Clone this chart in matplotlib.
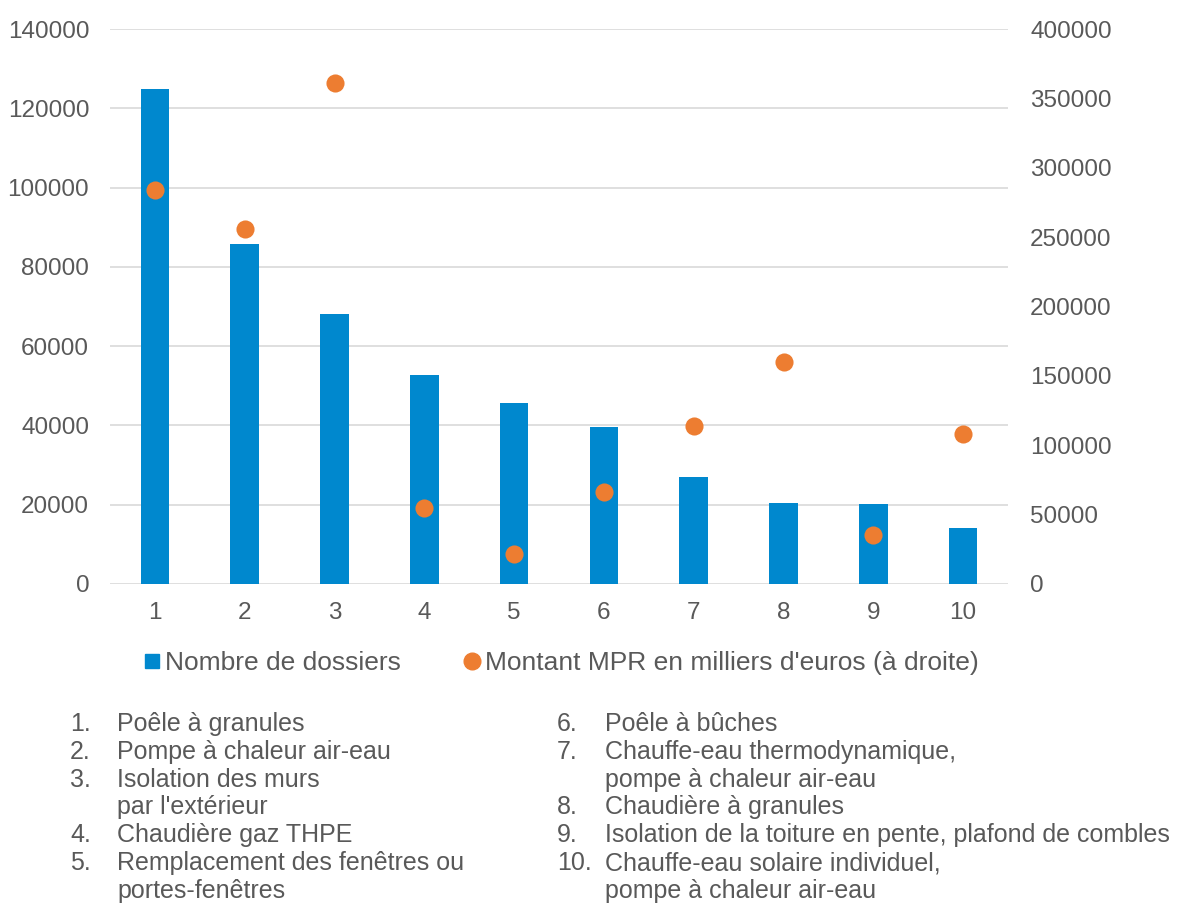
import matplotlib
matplotlib.use("Agg")
import matplotlib.pyplot as plt
from matplotlib.lines import Line2D

# data
categories = [1, 2, 3, 4, 5, 6, 7, 8, 9, 10]
nb_dossiers = [124900, 85800, 68100, 52700, 45700, 39600, 27000, 20400, 20100, 14100]
montant_mpr = [284000, 256000, 361000, 55000, 21600, 66300, 114000, 160000, 35300, 108000]
left_ticks = [0, 20000, 40000, 60000, 80000, 100000, 120000, 140000]
right_ticks = [0, 50000, 100000, 150000, 200000, 250000, 300000, 350000, 400000]

col1 = [("1.", "Poêle à granules"),
        ("2.", "Pompe à chaleur air-eau"),
        ("3.", "Isolation des murs"),
        ("", "par l'extérieur"),
        ("4.", "Chaudière gaz THPE"),
        ("5.", "Remplacement des fenêtres ou"),
        ("", "portes-fenêtres")]
col2 = [("6.", "Poêle à bûches"),
        ("7.", "Chauffe-eau thermodynamique,"),
        ("", "pompe à chaleur air-eau"),
        ("8.", "Chaudière à granules"),
        ("9.", "Isolation de la toiture en pente, plafond de combles"),
        ("10.", "Chauffe-eau solaire individuel,"),
        ("", "pompe à chaleur air-eau")]

blue = "#0088CE"
orange = "#ED7D31"
grey = "#595959"

plt.rcParams["font.family"] = ["Liberation Sans", "DejaVu Sans"]

W, H = 1179, 906
fig = plt.figure(figsize=(W / 100, H / 100), dpi=100)
ax = fig.add_axes([110 / W, (H - 584) / H, 898 / W, 555 / H])

ax.bar(categories, nb_dossiers, width=0.32, color=blue, zorder=2)
ax.set_xlim(0.5, 10.5)
ax.set_ylim(0, 140000)
ax.set_yticks(left_ticks)
ax.set_xticks(categories)
ax.grid(axis="y", color="#D9D9D9", linewidth=1.2, zorder=0)
ax.set_axisbelow(True)
for s in ax.spines.values():
    s.set_visible(False)
ax.tick_params(length=0, labelsize=17.5, labelcolor=grey)
ax.tick_params(axis="x", pad=13)
ax.tick_params(axis="y", pad=15)

ax2 = ax.twinx()
ax2.scatter(categories, montant_mpr, s=170, color=orange, zorder=3, linewidths=0)
ax2.set_ylim(0, 400000)
ax2.set_yticks(right_ticks)
for s in ax2.spines.values():
    s.set_visible(False)
ax2.tick_params(length=0, labelsize=17.5, labelcolor=grey, pad=16)

handles = [Line2D([], [], marker="s", linestyle="", color=blue, markersize=9.5),
           Line2D([], [], marker="o", linestyle="", color=orange, markersize=12)]
fig.legend(handles, ["Nombre de dossiers", "Montant MPR en milliers d'euros (à droite)"],
           loc="center", bbox_to_anchor=(559 / W, 1 - 663 / H), ncol=2, frameon=False,
           handletextpad=0.0, columnspacing=2.2, handlelength=1.0,
           prop={"size": 19}, labelcolor=grey)

# numbered list under the chart
row_y = [724, 752, 780, 807, 835, 863, 891]
for (num, txt), y in zip(col1, row_y):
    fig.text(70 / W, 1 - y / H, num, ha="left", va="center", color=grey, fontsize=18)
    fig.text(117 / W, 1 - y / H, txt, ha="left", va="center", color=grey, fontsize=18)
for (num, txt), y in zip(col2, row_y):
    fig.text(557 / W, 1 - y / H, num, ha="left", va="center", color=grey, fontsize=18)
    fig.text(605 / W, 1 - y / H, txt, ha="left", va="center", color=grey, fontsize=18)

fig.savefig("out.png", dpi=100)
